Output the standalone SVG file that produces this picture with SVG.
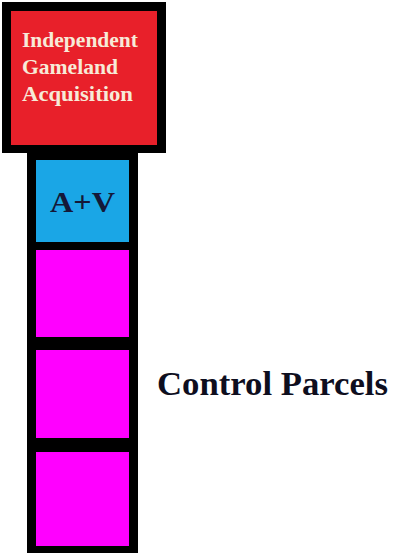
<svg xmlns="http://www.w3.org/2000/svg" width="394" height="553" viewBox="0 0 394 553">
  <style>
    .frame { fill: #000000; }
    .title { font-family: "Liberation Serif", "Times New Roman", serif; font-weight: bold; fill: #f7ead8; font-size: 21.5px; }
    .av { font-family: "Liberation Serif", "Times New Roman", serif; font-weight: bold; fill: #141838; font-size: 29px; }
    .label { font-family: "Liberation Serif", "Times New Roman", serif; font-weight: bold; fill: #0e0e1e; font-size: 33px; }
    .magenta { fill: #ff00ff; }
  </style>
  <rect width="394" height="553" fill="#ffffff"/>
  <g id="column-frame">
    <rect class="frame" x="27" y="148" width="111" height="405"/>
  </g>
  <g id="node-acquisition">
    <rect class="frame" x="2" y="2" width="164" height="151"/>
    <rect x="11" y="11" width="146" height="134" fill="#e8202a"/>
    <text class="title" x="22" y="47" textLength="116" lengthAdjust="spacingAndGlyphs">Independent</text>
    <text class="title" x="22" y="74" textLength="96" lengthAdjust="spacingAndGlyphs">Gameland</text>
    <text class="title" x="22" y="101" textLength="111" lengthAdjust="spacingAndGlyphs">Acquisition</text>
  </g>
  <g id="node-av">
    <rect x="36" y="160" width="93" height="82" fill="#1aa6e6"/>
    <text class="av" x="50" y="212" textLength="65" lengthAdjust="spacingAndGlyphs">A+V</text>
  </g>
  <g id="node-control-1">
    <rect class="magenta" x="36" y="250" width="93" height="87"/>
  </g>
  <g id="node-control-2">
    <rect class="magenta" x="36" y="350" width="93" height="88"/>
  </g>
  <g id="node-control-3">
    <rect class="magenta" x="36" y="452" width="93" height="94"/>
  </g>
  <g id="node-label">
    <text class="label" x="157" y="395" textLength="231" lengthAdjust="spacingAndGlyphs">Control Parcels</text>
  </g>
  <g id="connectors"></g>
</svg>
